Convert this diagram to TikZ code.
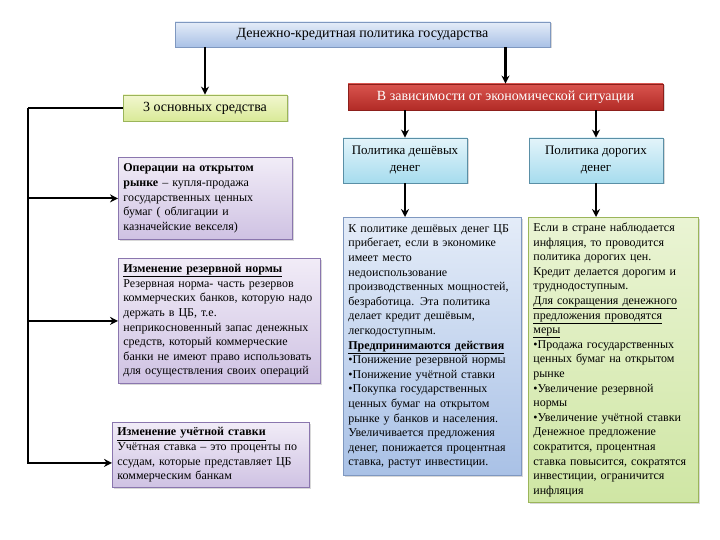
\documentclass[tikz,border=0pt]{standalone}
\usepackage{fontspec}
\setmainfont{Liberation Serif}
\usetikzlibrary{arrows.meta,shadows}

\definecolor{titletop}{HTML}{E4ECF8}
\definecolor{titlebot}{HTML}{A9C1E6}
\definecolor{titleline}{HTML}{7F98C0}
\definecolor{greentop}{HTML}{F2F7CF}
\definecolor{greenbot}{HTML}{D9EA98}
\definecolor{greenline}{HTML}{9BB55A}
\definecolor{lilactop}{HTML}{F1ECF7}
\definecolor{lilacbot}{HTML}{CFC2E3}
\definecolor{lilacline}{HTML}{8A76AE}
\definecolor{redtop}{HTML}{D9544E}
\definecolor{redbot}{HTML}{B22B26}
\definecolor{redline}{HTML}{8C1F1B}
\definecolor{cyantop}{HTML}{E3F4FA}
\definecolor{cyanbot}{HTML}{A6DCEE}
\definecolor{cyanline}{HTML}{5A8FA6}
\definecolor{bluetop}{HTML}{F1F5FB}
\definecolor{bluebot}{HTML}{B7CCEA}
\definecolor{limetop}{HTML}{EAF4D4}
\definecolor{limebot}{HTML}{CFE6A4}

\begin{document}
\begin{tikzpicture}[x=1pt,y=-1pt,
    link/.style={line width=2.2pt,-{Stealth[length=8pt,width=8pt]}},
    bar/.style={line width=2.2pt},
    box/.style={draw,line width=0.8pt,inner xsep=6pt,inner ysep=3pt,
        drop shadow={shadow xshift=1.5pt,shadow yshift=-1.5pt,opacity=0.3}},
    head/.style={box,align=center,font=\fontsize{14}{16}\selectfont},
    subhead/.style={box,align=center,font=\fontsize{13}{17}\selectfont},
    textbox/.style={box,anchor=north west,align=left,inner xsep=5pt,
        font=\fontsize{12}{14.6}\selectfont},
    bluebox/.style={top color=titletop,bottom color=titlebot,draw=titleline},
    greenbox/.style={top color=greentop,bottom color=greenbot,draw=greenline},
    lilacbox/.style={top color=lilactop,bottom color=lilacbot,draw=lilacline},
    redbox/.style={top color=redtop,bottom color=redbot,draw=redline,text=white},
    cyanbox/.style={top color=cyantop,bottom color=cyanbot,draw=cyanline},
    limebox/.style={top color=limetop,bottom color=limebot,draw=greenline}
]

% Background
\fill[white] (0,0) rectangle (720,540);
\useasboundingbox (0,0) rectangle (720,540);

% Title
\node[head,bluebox,minimum width=375pt,minimum height=25pt] (top) at (362.5,34.5)
    {Денежно-кредитная политика государства};

% Left branch
\node[head,greenbox,minimum width=164pt,minimum height=26pt] (means) at (205,108)
    {3 основных средства};

\node[textbox,lilacbox,text width=164pt,minimum height=82pt] (ops) at (118,157)
    {\textbf{Операции на открытом}\\
     \textbf{рынке} – купля-продажа\\
     государственных ценных\\
     бумаг ( облигации и\\
     казначейские векселя)};

\node[textbox,lilacbox,text width=192pt,minimum height=125pt] (reserve) at (118,258)
    {\underline{\textbf{Изменение резервной нормы}}\\
     Резервная норма- часть резервов\\
     коммерческих банков, которую надо\\
     держать в ЦБ, т.е.\\
     неприкосновенный запас денежных\\
     средств, который коммерческие\\
     банки не имеют право использовать\\
     для осуществления своих операций};

\node[textbox,lilacbox,text width=187pt,minimum height=65pt] (disc) at (112,422)
    {\underline{\textbf{Изменение учётной ставки}}\\
     Учётная ставка – это проценты по\\
     ссудам, которые представляет ЦБ\\
     коммерческим банкам};

% Right branch
\node[head,redbox,minimum width=315pt,minimum height=26pt] (situation) at (505.5,97)
    {В зависимости от экономической ситуации};

\node[subhead,cyanbox,minimum width=124pt,minimum height=45pt] (cheap) at (405,160.5)
    {Политика дешёвых\\денег};
\node[subhead,cyanbox,minimum width=134pt,minimum height=45pt] (dear) at (596,160.5)
    {Политика дорогих\\денег};

\node[textbox,bluebox,text width=168pt,minimum height=258pt] (cheaptext) at (343,217)
    {К политике дешёвых денег ЦБ\\
     прибегает, если в экономике\\
     имеет место\\
     недоиспользование\\
     производственных мощностей,\\
     безработица. Эта политика\\
     делает кредит дешёвым,\\
     легкодоступным.\\
     \underline{\textbf{Предпринимаются действия}}\\
     •Понижение резервной нормы\\
     •Понижение учётной ставки\\
     •Покупка государственных\\
     ценных бумаг на открытом\\
     рынке у банков и населения.\\
     Увеличивается предложения\\
     денег, понижается процентная\\
     ставка, растут инвестиции.};

\node[textbox,limebox,text width=160pt,minimum height=285pt] (deartext) at (528,217)
    {Если в стране наблюдается\\
     инфляция, то проводится\\
     политика дорогих цен.\\
     Кредит делается дорогим и\\
     труднодоступным.\\
     \underline{Для сокращения денежного}\\
     \underline{предложения проводятся}\\
     \underline{меры}\\
     •Продажа государственных\\
     ценных бумаг на открытом\\
     рынке\\
     •Увеличение резервной\\
     нормы\\
     •Увеличение учётной ставки\\
     Денежное предложение\\
     сократится, процентная\\
     ставка повысится, сократятся\\
     инвестиции, ограничится\\
     инфляция};

% Connectors
\draw[link] (top.south -| means.north) -- (means.north);
\draw[link] (top.south -| situation.north) -- (situation.north);
\draw[link] (situation.south -| cheap.north) -- (cheap.north);
\draw[link] (situation.south -| dear.north) -- (dear.north);
\draw[link] (cheap.south) -- (cheap.south |- cheaptext.north);
\draw[link] (dear.south) -- (dear.south |- deartext.north);

% Bracket
\coordinate (spine) at (28,108);
\draw[bar] (means.west) -- (spine);
\draw[link] (spine) |- (ops.west);
\draw[link] (spine) |- (reserve.west);
\draw[link] (spine) |- ([yshift=-8pt]disc.west);

\end{tikzpicture}
\end{document}
